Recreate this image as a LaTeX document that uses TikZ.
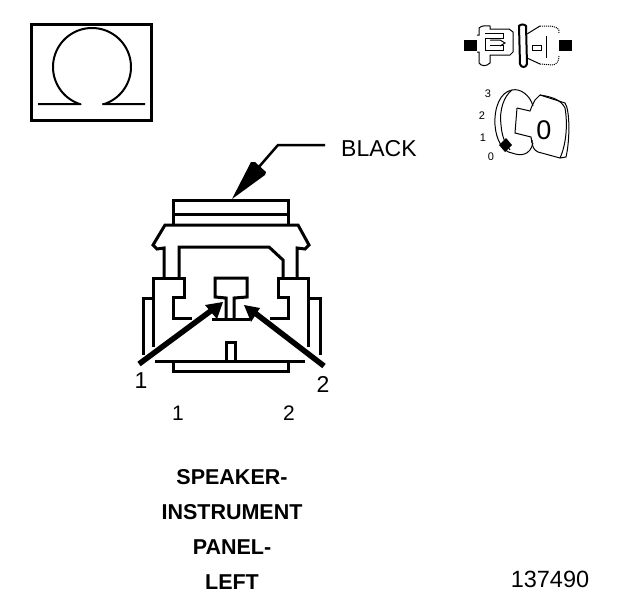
\documentclass[tikz,border=0pt]{standalone}
\usepackage{fontspec}
\setmainfont{Liberation Sans}
\begin{document}
\begin{tikzpicture}[x=1pt,y=-1pt,
  heavy/.style={line width=3pt,line join=miter,black},
  medium/.style={line width=2pt,black},
  fine/.style={line width=1pt,black},
  lbl/.style={inner sep=0pt,font=\fontsize{23}{24}\selectfont},
  blbl/.style={inner sep=0pt,font=\fontsize{21.5}{24}\selectfont\bfseries},
  tiny/.style={inner sep=0pt,font=\fontsize{11}{12}\selectfont},
  pointer/.style={line width=5.5pt,black}]
\useasboundingbox (0,0) rectangle (624,600);
\fill[white] (0,0) rectangle (624,600);
% Omega
\draw[heavy] (31,24) rectangle (151,120);
\draw[medium,line join=round] (38,104) -- (80,104) -- plot[domain=107:433,samples=90,smooth] ({92+39*cos(\x)},{67+39*sin(\x)}) -- (103,104) -- (145,104);
% connector body
\draw[heavy] (173,225) -- (173,200) -- (288,200) -- (288,225);
\draw[heavy] (173,214) -- (288,214);
\draw[heavy] (164,278) -- (164,248) -- (157,249) -- (153,245) -- (165,225) -- (298,225) -- (309,245) -- (305,249) -- (297,248) -- (297,278);
\draw[heavy] (179,278) -- (179,247) -- (269,247) -- (283,260) -- (283,278);
\draw[heavy] (153,347) -- (153,278) -- (184,278) -- (184,297) -- (173,297) -- (173,318) -- (192,318);
\draw[heavy] (308,347) -- (308,278) -- (278,278) -- (278,297) -- (288,297) -- (288,318) -- (270,318);
\draw[heavy] (153,298) -- (143,298) -- (143,355);
\draw[heavy] (308,298) -- (320,298) -- (320,355);
\draw[heavy] (226,318) -- (226,298) -- (215,297) -- (215,278) -- (247,278) -- (247,297) -- (234,298) -- (234,318);
\draw[heavy] (212,319) -- (250,319);
\draw[heavy] (155,361) -- (305,361);
\draw[heavy] (226,361) -- (226,342) -- (235,342) -- (235,361);
\draw[heavy] (173,361) -- (173,371) -- (288,371) -- (288,361);
% pointers
\coordinate (tipa) at (223,302);
\coordinate (taila) at (139,364);
\coordinate (tipb) at (244,305);
\coordinate (tailb) at (324,366);
\draw[pointer] (taila) -- (212,310);
\fill (tipa) -- (217,319) -- (205,305) -- cycle;
\draw[pointer] (tailb) -- (255,313);
\fill (tipb) -- (251,322) -- (260,308) -- cycle;
% black pointer
\node[lbl,anchor=west] (black) at (341,148.5) {BLACK};
\coordinate (bend) at (278,145);
\coordinate (tipc) at (232,199);
\draw[line width=2.5pt] (325,145) -- (bend) -- (258,168);
\fill (tipc) -- (251,162) -- (255,162) -- (266,172) -- (265,175) -- cycle;
% labels
\node[lbl] (n1) at (141,381) {1};
\node[lbl] (n2) at (323,384) {2};
\node[inner sep=0pt,font=\fontsize{21}{24}\selectfont] (p1) at (178,413) {1};
\node[inner sep=0pt,font=\fontsize{21}{24}\selectfont] (p2) at (289,413) {2};
\node[blbl] (t1) at (232,477) {SPEAKER-};
\node[blbl] (t2) at (232,512) {INSTRUMENT};
\node[blbl] (t3) at (232,547) {PANEL-};
\node[blbl] (t4) at (232,582) {LEFT};
\node[inner sep=0pt,font=\fontsize{23.5}{24}\selectfont] (num) at (550,579) {137490};
% plug icon
\fill (464,40) rectangle (477,51);
\fill (559,40) rectangle (572,51);
\draw[fine] (477,35) -- (479,35) -- (479,28) .. controls (482,25) and (486,26) .. (490,26) -- (490,29) -- (509,29) -- (513,32) -- (513,52) -- (510,55) -- (490,55) -- (490,63) .. controls (486,67) and (481,66) .. (479,63) -- (479,52) -- (477,52);
\draw[fine] (485,33) -- (503,33) -- (503,38) -- (485,38) -- (485,50) -- (503,50) -- (503,45) -- (490,45);
\draw[fine] (490,40) -- (500,40) -- (505,43) -- (500,46);
\draw[line width=2pt] (519,26) .. controls (520,24) and (525,24) .. (526,26) -- (527,64) .. controls (526,68) and (521,68) .. (520,64) -- cycle;
\draw[fine] (527,34) -- (540,26);
\draw[fine,densely dotted] (540,26) -- (550,26) .. controls (556,27) and (560,28) .. (559,33);
\draw[fine] (532,45) -- (532,50) -- (541,50) -- (541,45) -- cycle;
\draw[fine] (546,36) -- (546,58);
\draw[fine] (527,58) -- (540,64);
\draw[fine,densely dotted] (540,64) -- (553,65) .. controls (557,64) and (559,61) .. (559,56);
% key icon
\node[tiny] (k3) at (488,94) {3};
\node[tiny] (k2) at (482,116) {2};
\node[tiny] (k1) at (483,138) {1};
\node[tiny] (k0) at (491,157) {0};
\draw[fine] (533,106) .. controls (530,95) and (520,88) .. (512,90) .. controls (500,92) and (494,108) .. (495,125) .. controls (496,140) and (503,152) .. (512,153);
\draw[fine] (512,90) .. controls (504,96) and (499,110) .. (501,125) .. controls (502,137) and (505,143) .. (510,150);
\draw[fine] (512,153) .. controls (520,156) and (530,156) .. (533,143);
\draw[fine] (517,108) -- (530,111) -- (532,106) -- (535,100) -- (540,95) -- (565,103) .. controls (570,110) and (570,140) .. (566,157) -- (560,158) -- (538,152) .. controls (534,150) and (532,147) .. (532,140);
\draw[fine] (517,108) -- (515,133) -- (531,137) -- (532,143);
\draw[fine] (540,95) .. controls (553,97) and (561,100) .. (565,108) .. controls (568,125) and (566,145) .. (560,158);
\node[inner sep=0pt,font=\fontsize{27}{27}\selectfont] (zero) at (544,130) {0};
\fill (506,138) -- (512,145) -- (505,152) -- (499,145) -- cycle;
\end{tikzpicture}
\end{document}
